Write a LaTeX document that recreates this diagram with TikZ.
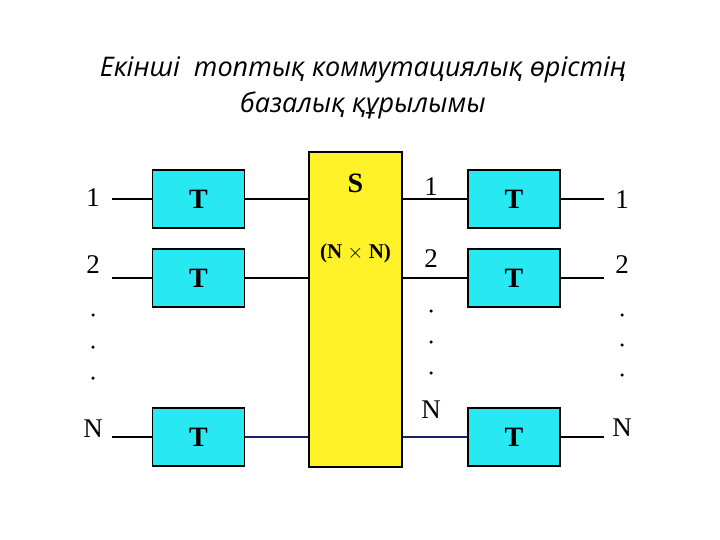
\documentclass[tikz,border=0pt]{standalone}
\usepackage{fontspec}
\setmainfont{Liberation Serif}
\newfontfamily\titlefont{Open Sans}
\definecolor{tcyan}{RGB}{40,232,242}
\definecolor{syellow}{RGB}{255,242,40}
\definecolor{navyline}{RGB}{30,30,110}
\begin{document}
\begin{tikzpicture}[x=1pt,y=-1pt,
  tbox/.style={draw, line width=1.6pt, fill=tcyan, minimum width=92pt, minimum height=58pt, font=\bfseries\fontsize{28}{28}\selectfont},
  sbox/.style={draw, line width=1.6pt, fill=syellow, minimum width=93pt, minimum height=315pt},
  num/.style={font=\fontsize{27}{27}\selectfont},
  dot/.style={circle, fill, inner sep=0pt, minimum size=3.5pt},
  wire/.style={line width=1.3pt}]
\useasboundingbox (0,0) rectangle (720,540);
\node[font=\titlefont\itshape\fontsize{27}{36}\selectfont, align=center] (title) at (363,88) {Екінші\ \ топтық коммутациялық өрістің\\базалық құрылымы};
\node[sbox] (s) at (355.5,309.5) {};
\node[font=\bfseries\fontsize{28}{28}\selectfont] (slabel) at (355.5,183) {S};
\node[font=\bfseries\fontsize{21}{21}\selectfont] (sdim) at (355.5,253) {(N $\times$ N)};
% left column
\node[tbox] (lt1) at (198.5,199) {T};
\node[tbox] (lt2) at (198.5,278) {T};
\node[tbox] (ltn) at (198.5,437) {T};
\node[num] (la1) at (93,198) {1};
\node[num] (la2) at (93,265) {2};
\node[num] (lan) at (93,429) {N};
\node[dot] (ld1) at (93,315) {};
\node[dot] (ld2) at (93,347) {};
\node[dot] (ld3) at (93,378) {};
\coordinate (lin1) at (112,199);
\coordinate (lin2) at (112,278);
\coordinate (linn) at (112,437);
% right column
\node[tbox] (rt1) at (514,199) {T};
\node[tbox] (rt2) at (514,278) {T};
\node[tbox] (rtn) at (514,437) {T};
\node[num] (ma1) at (431,187) {1};
\node[num] (ma2) at (431,259) {2};
\node[num] (man) at (431,410) {N};
\node[dot] (md1) at (431,311) {};
\node[dot] (md2) at (431,342) {};
\node[dot] (md3) at (431,373) {};
\node[num] (ra1) at (622,200) {1};
\node[num] (ra2) at (622,265) {2};
\node[num] (ran) at (622,428) {N};
\node[dot] (rd1) at (622,315) {};
\node[dot] (rd2) at (622,345) {};
\node[dot] (rd3) at (622,375) {};
\coordinate (rout1) at (604,199);
\coordinate (rout2) at (604,278);
\coordinate (routn) at (604,437);
% wires
\draw[wire] (lin1) -- (lt1);
\draw[wire] (lin2) -- (lt2);
\draw[wire] (linn) -- (ltn);
\draw[wire] (lt1) -- (lt1 -| s.west);
\draw[wire] (lt2) -- (lt2 -| s.west);
\draw[wire, navyline] (ltn) -- (ltn -| s.west);
\draw[wire] (rt1 -| s.east) -- (rt1);
\draw[wire] (rt2 -| s.east) -- (rt2);
\draw[wire, navyline] (rtn -| s.east) -- (rtn);
\draw[wire] (rt1) -- (rout1);
\draw[wire] (rt2) -- (rout2);
\draw[wire] (rtn) -- (routn);
\end{tikzpicture}
\end{document}
